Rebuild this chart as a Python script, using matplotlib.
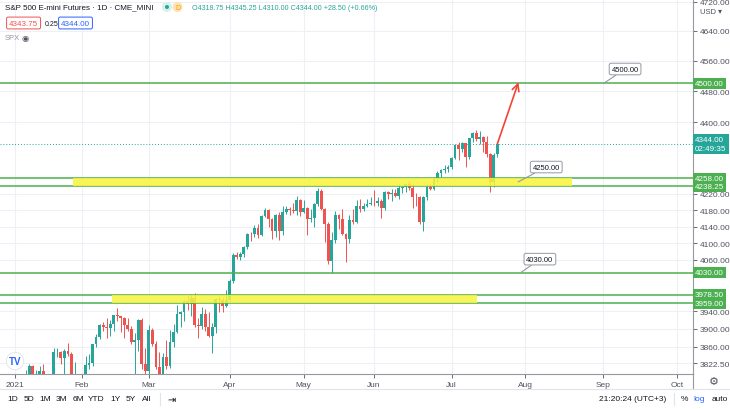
import matplotlib
matplotlib.use("Agg")
import matplotlib.pyplot as plt
import matplotlib.ticker as mticker
from matplotlib.lines import Line2D
from matplotlib.patches import Rectangle, Ellipse
import pandas as pd

plt.rcParams['font.family'] = ['Liberation Sans', 'DejaVu Sans']

# daily OHLC, ES1! Jan 4 .. Jul 21 2021
opens = [3748, 3693, 3719, 3741, 3797, 3817, 3794, 3797, 3806, 3792, 3762, 3794, 3847, 3849, 3835, 3850, 3844, 3741, 3783,
         3707, 3767, 3820, 3823, 3865, 3882, 3910, 3905, 3902, 3912, 3931, 3929, 3926, 3908, 3901, 3870, 3876, 3920, 3821,
         3806, 3897, 3866, 3815, 3762, 3837, 3816, 3870, 3893, 3935, 3938, 3963, 3957, 3970, 3910, 3907, 3935, 3905, 3884, 3905, 3968, 3966, 3953,
         3967, 4010, 4072, 4068, 4074, 4092, 4123, 4122, 4136, 4119, 4165, 4180, 4158, 4130, 4168, 4130, 4175, 4182, 4180, 4177, 4205,
         4175, 4186, 4158, 4161, 4195, 4227, 4183, 4147, 4057, 4108, 4168, 4157, 4122, 4110, 4155, 4150, 4191, 4182, 4190, 4194,
         4198, 4197, 4202, 4186, 4224, 4220, 4221, 4214, 4233, 4236, 4245, 4235, 4213, 4211, 4152, 4212, 4236, 4231, 4256, 4271, 4279, 4281,
         4285, 4308, 4341, 4332, 4346, 4310, 4358, 4373, 4357, 4362, 4349, 4318, 4248, 4318.75]
highs = [3769, 3730, 3778, 3807, 3822, 3820, 3808, 3817, 3821, 3797, 3800, 3857, 3858, 3851, 3855, 3868, 3848, 3826, 3786,
         3780, 3840, 3843, 3866, 3888, 3912, 3915, 3926, 3920, 3932, 3947, 3930, 3928, 3926, 3907, 3890, 3922, 3924, 3858,
         3909, 3902, 3872, 3848, 3845, 3876, 3898, 3912, 3955, 3940, 3966, 3977, 3980, 3982, 3925, 3950, 3945, 3938, 3913, 3972, 3976, 3970, 3990,
         4015, 4077, 4080, 4078, 4093, 4124, 4126, 4143, 4147, 4168, 4186, 4182, 4160, 4170, 4175, 4189, 4190, 4188, 4196, 4214, 4206,
         4204, 4188, 4182, 4197, 4233, 4232, 4185, 4150, 4126, 4178, 4170, 4183, 4125, 4167, 4183, 4205, 4208, 4197, 4208, 4213,
         4229, 4212, 4208, 4227, 4227, 4231, 4232, 4244, 4240, 4247, 4248, 4244, 4222, 4215, 4214, 4244, 4245, 4261, 4276, 4282, 4290, 4290,
         4310, 4343, 4348, 4350, 4347, 4360, 4374, 4380, 4378, 4365, 4364, 4322, 4322, 4345.25]
lows = [3662, 3686, 3690, 3740, 3778, 3780, 3771, 3787, 3789, 3745, 3760, 3790, 3837, 3822, 3790, 3840, 3725, 3735, 3686,
        3697, 3762, 3810, 3816, 3860, 3878, 3895, 3880, 3885, 3895, 3918, 3893, 3880, 3895, 3865, 3800, 3850, 3809, 3780,
        3800, 3862, 3810, 3717, 3718, 3810, 3812, 3860, 3890, 3905, 3918, 3943, 3930, 3905, 3880, 3900, 3895, 3882, 3845, 3890, 3938, 3938, 3950,
        3963, 4005, 4062, 4060, 4068, 4085, 4105, 4115, 4112, 4118, 4162, 4140, 4110, 4115, 4108, 4120, 4170, 4168, 4173, 4168, 4166,
        4172, 4120, 4150, 4138, 4190, 4180, 4103, 4050, 4029, 4100, 4135, 4120, 4055, 4100, 4145, 4148, 4175, 4178, 4187, 4192,
        4190, 4190, 4160, 4180, 4208, 4203, 4212, 4206, 4222, 4225, 4228, 4186, 4190, 4145, 4128, 4205, 4228, 4228, 4250, 4262, 4272, 4274,
        4280, 4305, 4303, 4325, 4285, 4305, 4350, 4352, 4345, 4325, 4310, 4224, 4237, 4310]
closes = [3693, 3719, 3741, 3797, 3817, 3794, 3797, 3806, 3792, 3762, 3794, 3847, 3849, 3835, 3850, 3844, 3741, 3783, 3707,
          3767, 3820, 3823, 3865, 3882, 3910, 3905, 3902, 3912, 3931, 3929, 3926, 3908, 3901, 3870, 3876, 3920, 3821, 3806,
          3897, 3866, 3815, 3762, 3837, 3816, 3870, 3893, 3935, 3938, 3963, 3957, 3970, 3910, 3907, 3935, 3905, 3884, 3905, 3968, 3966, 3953, 3967,
          4010, 4072, 4068, 4074, 4092, 4123, 4122, 4136, 4119, 4165, 4180, 4158, 4130, 4168, 4130, 4175, 4182, 4180, 4177, 4205, 4175,
          4186, 4158, 4161, 4195, 4227, 4183, 4147, 4057, 4108, 4168, 4157, 4122, 4110, 4155, 4150, 4191, 4182, 4190, 4194, 4198,
          4197, 4202, 4186, 4224, 4220, 4221, 4214, 4233, 4236, 4245, 4235, 4213, 4211, 4152, 4212, 4236, 4231, 4256, 4271, 4279, 4281, 4285,
          4308, 4341, 4332, 4346, 4310, 4358, 4373, 4357, 4362, 4349, 4318, 4248, 4315.5, 4344]
assert len(opens) == len(highs) == len(lows) == len(closes) == 138

holidays = ["2021-01-18", "2021-02-15", "2021-04-02", "2021-05-31", "2021-07-05", "2021-09-06"]
calendar = pd.bdate_range("2021-01-04", "2021-10-29")
calendar = calendar[~calendar.isin(pd.to_datetime(holidays))]

h_levels = [4500, 4258, 4238.25, 4030, 3978.5, 3959]
y_ticks = [4720, 4640, 4560, 4480, 4400, 4220, 4180, 4140, 4100, 4060, 3940, 3900, 3860, 3822.5]
last_price = 4344.00

UP, DOWN = '#26a69a', '#ef5350'
LINE_GREEN = '#4caf50'
ZONE = '#f9f43c'
W, H = 730, 410


def fx(x):
    return x / W


def fy(y):
    return 1 - y / H


fig = plt.figure(figsize=(7.3, 4.1), dpi=100)
ax = fig.add_axes([0, fy(375), fx(693), 375 / H])
ax.set_yscale('log')
ax.set_xlim(-4.3, 192.6)
ax.set_ylim(3799, 4727)

# month ticks on bar index axis
month_pos, month_lab = [], []
prev = None
for i, d in enumerate(calendar):
    if d.month != prev:
        month_pos.append(i)
        month_lab.append('2021' if d.month == 1 else d.strftime('%b'))
        prev = d.month
ax.set_xticks(month_pos)
ax.set_xticklabels(month_lab)
ax.yaxis.set_major_locator(mticker.FixedLocator(y_ticks))
ax.yaxis.set_minor_locator(mticker.NullLocator())
ax.yaxis.set_major_formatter(mticker.FormatStrFormatter('%.2f'))
ax.yaxis.tick_right()
ax.tick_params(axis='both', labelsize=6, colors='#50535e', length=3, pad=2, width=0.6)
ax.tick_params(axis='y', labelright=True, labelleft=False)
ax.grid(True, color='#eef0f5', lw=0.8)
ax.set_axisbelow(True)
for s in ('top', 'left'):
    ax.spines[s].set_visible(False)
for s in ('right', 'bottom'):
    ax.spines[s].set_color('#9598a1')
    ax.spines[s].set_linewidth(0.8)

# candles
idx = list(range(len(closes)))
cols = [UP if c >= o else DOWN for o, c in zip(opens, closes)]
ax.vlines(idx, lows, highs, colors=cols, lw=0.7, zorder=3)
bottoms = [min(o, c) for o, c in zip(opens, closes)]
heights = [max(abs(c - o), 1.0) for o, c in zip(opens, closes)]
ax.bar(idx, heights, bottom=bottoms, width=0.8, color=cols, zorder=3, lw=0)

# horizontal levels and zones
for lvl in h_levels:
    ax.axhline(lvl, color=LINE_GREEN, lw=1.1, zorder=4)
ax.add_patch(Rectangle((16.5, 4238.25), 158.2 - 16.5, 4258 - 4238.25,
                       facecolor=ZONE, alpha=0.85, lw=0, zorder=5))
ax.add_patch(Rectangle((27.6, 3959), 131.3 - 27.6, 3978.5 - 3959,
                       facecolor=ZONE, alpha=0.85, lw=0, zorder=5))
ax.axhline(last_price, color=UP, lw=0.7, ls=(0, (1, 2)), zorder=2)

# callouts
box = dict(boxstyle='round,pad=0.3,rounding_size=0.25', fc='white', ec='#9598a1', lw=0.7)
for txt, xy, xyt in [('4500.00', (167.2, 4500), (173.3, 4538)),
                     ('4250.00', (142.9, 4249), (150.9, 4286)),
                     ('4030.00', (143.8, 4031), (149.1, 4062))]:
    ax.annotate(txt, xy=xy, xytext=xyt, fontsize=5.5, color='#131722', ha='center', va='center',
                bbox=box, zorder=6,
                arrowprops=dict(arrowstyle='-', color='#9598a1', lw=0.8, shrinkA=0, shrinkB=0))

# projected move
ax.annotate('', xy=(143.0, 4503), xytext=(137, last_price),
            arrowprops=dict(arrowstyle='->,head_length=0.5,head_width=0.25', color='#f44336', lw=1.2,
                            shrinkA=0, shrinkB=0), zorder=6)

# price scale labels
ytr = ax.get_yaxis_transform()
for lvl in h_levels:
    ax.text(1.003, lvl, f'{lvl:.2f}', transform=ytr, fontsize=5.8, color='white', ha='left', va='center',
            bbox=dict(boxstyle='square,pad=0.25', fc=LINE_GREEN, ec='none'), clip_on=False, zorder=7)
ax.text(1.003, last_price, f'{last_price:.2f}\n02:49:35', transform=ytr, fontsize=5.8, color='white',
        ha='left', va='center', linespacing=1.3,
        bbox=dict(boxstyle='square,pad=0.3', fc=UP, ec='none'), clip_on=False, zorder=7)
fig.text(fx(711), fy(13), 'USD ▾', fontsize=5.5, color='#50535e', ha='center', va='center')


def dot(x, y, d, color):
    fig.add_artist(Ellipse((fx(x), fy(y)), d / W, d / H, transform=fig.transFigure, fc=color, ec='none'))


# header
fig.text(fx(5), fy(8), 'S&P 500 E-mini Futures · 1D · CME_MINI', fontsize=5.8, color='#131722', va='center')
dot(167, 8, 10, '#d7f0ec')
dot(167, 8, 4, UP)
dot(177.5, 8, 10, '#fde3b0')
fig.text(fx(177.5), fy(8), 'D', fontsize=5, color='#ff9800', ha='center', va='center')
fig.text(fx(192), fy(8), 'O4318.75 H4345.25 L4310.00 C4344.00 +28.50 (+0.66%)',
         fontsize=5.1, color=UP, va='center')
fig.text(fx(9), fy(24), '4343.75', fontsize=5.8, color='#ef5350', va='center',
         bbox=dict(boxstyle='round,pad=0.3,rounding_size=0.2', fc='white', ec='#ef5350', lw=0.7))
fig.text(fx(45), fy(24), '0.25', fontsize=5, color='#131722', va='center')
fig.text(fx(61), fy(24), '4344.00', fontsize=5.8, color='#2962ff', va='center',
         bbox=dict(boxstyle='round,pad=0.3,rounding_size=0.2', fc='white', ec='#2962ff', lw=0.7))
fig.text(fx(5), fy(39), 'SPX', fontsize=5.5, color='#9598a1', va='center')
fig.text(fx(25), fy(39), '◉', fontsize=6, color='#50535e', ha='center', va='center')

# TV logo
fig.text(fx(15), fy(362), 'TV', fontsize=7, fontweight='bold', color='#2962ff', ha='center', va='center',
         bbox=dict(boxstyle='circle,pad=0.25', fc='white', ec='#e0e3eb', lw=0.6))

# bottom bar
fig.add_artist(Line2D([fx(693), fx(693)], [fy(375), fy(390)], color='#9598a1', lw=0.8))
fig.add_artist(Line2D([0, 1], [fy(390), fy(390)], color='#e0e3eb', lw=0.8))
fig.text(fx(714), fy(382), '⚙', fontsize=8, color='#50535e', ha='center', va='center')
ranges = ['1D', '5D', '1M', '3M', '6M', 'YTD', '1Y', '5Y', 'All']
rx = [13, 29, 45, 61, 78, 96, 115, 131, 147]
for lab, x in zip(ranges, rx):
    fig.text(fx(x), fy(400), lab, fontsize=6, color='#131722', ha='center', va='center')
fig.add_artist(Line2D([fx(160), fx(160)], [fy(394), fy(406)], color='#e0e3eb', lw=0.8))
fig.text(fx(172), fy(400), '⇥', fontsize=7, color='#131722', ha='center', va='center')
fig.text(fx(633), fy(400), '21:20:24 (UTC+3)', fontsize=6, color='#131722', ha='center', va='center')
fig.add_artist(Line2D([fx(674), fx(674)], [fy(394), fy(406)], color='#e0e3eb', lw=0.8))
fig.text(fx(684), fy(400), '%', fontsize=6, color='#131722', ha='center', va='center')
fig.text(fx(699), fy(400), 'log', fontsize=6, color='#2962ff', ha='center', va='center')
fig.text(fx(720), fy(400), 'auto', fontsize=6, color='#131722', ha='center', va='center')

fig.savefig('out.png', dpi=100)
